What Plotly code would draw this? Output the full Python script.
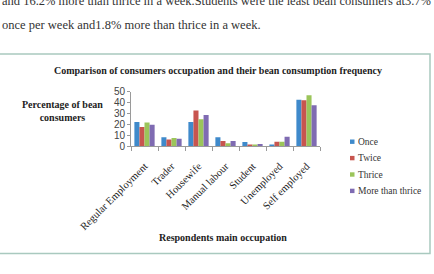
import plotly.graph_objects as go

W, H = 434, 274

occupations = ["Regular Employment", "Trader", "Housewife", "Manual labour",
               "Student", "Unemployed", "Self employed"]
series_names = ["Once", "Twice", "Thrice", "More than thrice"]
once = [22, 8, 22, 8, 3.7, 0.5, 42.5]
twice = [17.5, 6, 32.5, 4.5, 1, 4, 42]
thrice = [21.5, 7.3, 24.5, 2.5, 1, 4, 46.5]
more_than_thrice = [19.5, 6.7, 28.5, 4.5, 1.8, 8.5, 37.5]
series_values = [once, twice, thrice, more_than_thrice]
colors = ["#3F8ACB", "#C8554F", "#9BC55A", "#7F6BB2"]
y_ticks = [0, 10, 20, 30, 40, 50]

title = "Comparison of consumers occupation and their bean consumption frequency"
y_title = "Percentage of bean<br>consumers"
x_title = "Respondents main occupation"
para_line1 = "and 16.2% more than thrice in a week.Students were the least bean consumers at3.7%"
para_line2 = "once per week and1.8% more than thrice in a week."

def px_x(x):
    return x / W

def px_y(y):
    return 1 - y / H

fig = go.Figure()
for name, vals, col in zip(series_names, series_values, colors):
    fig.add_trace(go.Bar(x=occupations, y=vals, name=name,
                         marker=dict(color=col, line=dict(width=0)),
                         showlegend=False))

serif = "Liberation Serif, Times New Roman, serif"

fig.update_layout(
    width=W, height=H,
    margin=dict(l=0, r=0, t=0, b=0),
    paper_bgcolor="white", plot_bgcolor="white",
    barmode="group", bargap=0.25, bargroupgap=0,
    xaxis=dict(domain=[px_x(131), px_x(320)], showgrid=False,
               showline=True, linecolor="#9a9a9a", linewidth=1,
               ticks="outside", tickson="boundaries", ticklen=4, tickcolor="#9a9a9a",
               tickangle=-45, tickfont=dict(family=serif, size=10.5, color="#222"),
               ticklabelstandoff=9, automargin=False),
    yaxis=dict(domain=[px_y(146), px_y(91.5)], range=[0, 50], tickvals=y_ticks,
               showgrid=False, showline=True, linecolor="#9a9a9a", linewidth=1,
               ticks="outside", ticklen=3, tickcolor="#9a9a9a",
               tickfont=dict(family="Liberation Sans, Arial, sans-serif", size=10, color="#444"),
               zeroline=False, automargin=False),
    showlegend=False,
)

shapes = [dict(type="rect", xref="paper", yref="paper",
               x0=-0.01, x1=px_x(430), y0=px_y(253.5), y1=px_y(54),
               line=dict(color="#A9C9BF", width=1.5), fillcolor="rgba(0,0,0,0)")]

annotations = [
    dict(text="<b>" + title + "</b>", x=px_x(218), y=px_y(70), xref="paper", yref="paper",
         showarrow=False, font=dict(family=serif, size=10, color="#222"),
         xanchor="center", yanchor="middle"),
    dict(text="<b>" + y_title + "</b>", x=px_x(62), y=px_y(111), xref="paper", yref="paper",
         showarrow=False, font=dict(family=serif, size=10, color="#222"),
         xanchor="center", yanchor="middle", align="center"),
    dict(text="<b>" + x_title + "</b>", x=px_x(223), y=px_y(237), xref="paper", yref="paper",
         showarrow=False, font=dict(family=serif, size=10, color="#222"),
         xanchor="center", yanchor="middle"),
    dict(text=para_line1, x=0, y=px_y(1), xref="paper", yref="paper",
         showarrow=False, font=dict(family=serif, size=12.5, color="#333"),
         xanchor="left", yanchor="middle"),
    dict(text=para_line2, x=0, y=px_y(25), xref="paper", yref="paper",
         showarrow=False, font=dict(family=serif, size=12.5, color="#333"),
         xanchor="left", yanchor="middle"),
]

# manual legend
leg_x, leg_y0, leg_dy = 350, 141.7, 16.4
for i, (name, col) in enumerate(zip(series_names, colors)):
    yc = leg_y0 + i * leg_dy
    shapes.append(dict(type="rect", xref="paper", yref="paper",
                       x0=px_x(leg_x), x1=px_x(leg_x + 4.5),
                       y0=px_y(yc + 2.2), y1=px_y(yc - 2.2),
                       fillcolor=col, line=dict(width=0)))
    annotations.append(dict(text=name, x=px_x(leg_x + 5.5), y=px_y(yc),
                            xref="paper", yref="paper", showarrow=False,
                            font=dict(family=serif, size=9.5, color="#333"),
                            xanchor="left", yanchor="middle"))

fig.update_layout(shapes=shapes, annotations=annotations)
fig.write_html("out.html")
